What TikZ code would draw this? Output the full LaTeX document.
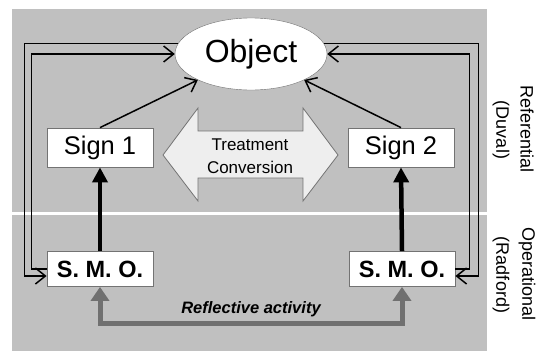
\documentclass[tikz,border=0pt]{standalone}
\usepackage{fontspec}
\setmainfont{Liberation Sans}
\usetikzlibrary{arrows.meta,shapes.geometric}
\definecolor{bg}{RGB}{192,192,192}
\definecolor{edge}{RGB}{115,115,115}
\definecolor{garr}{RGB}{112,112,112}
\definecolor{tcfill}{RGB}{238,238,238}
\begin{document}
\begin{tikzpicture}[x=1pt,y=-1pt,
  box/.style={draw=edge, line width=0.8pt, fill=white, minimum width=106pt, inner sep=0pt},
  signbox/.style={box, minimum height=39pt, font=\fontsize{25.5}{30}\selectfont},
  smobox/.style={box, minimum height=35pt, font=\bfseries\fontsize{23.5}{28}\selectfont},
  conn/.style={line width=1.5pt, -{Straight Barb[length=10pt,width=16pt,line width=1.5pt]}},
  bigarrow/.style={line width=4.5pt, -{Triangle[length=15pt,width=15pt]}},
  grayarrow/.style={draw=garr, line width=5pt, {Triangle[length=14pt,width=18pt]}-{Triangle[length=14pt,width=18pt]}},
  sidelabel/.style={rotate=-90, font=\fontsize{18}{21}\selectfont}]
\useasboundingbox (0,0) rectangle (537,351);
\fill[bg] (12,9) rectangle (487,351);
\draw[white, line width=3pt] (12,213) -- (487,213);

% treatment / conversion double arrow
\draw[draw=edge, line width=0.8pt, fill=tcfill]
  (163,155) -- (198,108) -- (198,131) -- (303,131) -- (303,108) -- (338,155)
  -- (303,201) -- (303,178) -- (198,178) -- (198,201) -- cycle;
\node[align=center, font=\fontsize{17}{23.5}\selectfont, text=black] (tc) at (250,156) {Treatment\\Conversion};

% nodes
\node[ellipse, draw=edge, fill=white, minimum width=152pt, minimum height=72pt, inner sep=0pt,
      font=\fontsize{32}{38}\selectfont] (obj) at (251,54) {Object};
\node[signbox] (s1) at (100,147.5) {Sign 1};
\node[signbox] (s2) at (401,147.5) {Sign 2};
\node[smobox] (m1) at (100,269) {S. M. O.};
\node[smobox] (m2) at (402,269) {S. M. O.};

% sign -> object
\draw[conn] (s1.north) -- (obj.206);
\draw[conn] (s2.north) -- (obj.334);

% double lines left
\draw[conn] (obj.172) -| ([xshift=-22pt,yshift=-7pt]m1.west) -- ([yshift=-7pt]m1.west);
\draw[conn] (m1.west) -| ([xshift=-15pt]m1.west) |- (obj.west);
% double lines right
\draw[conn] (obj.8) -| ([xshift=23pt,yshift=-7pt]m2.east) -- ([yshift=-7pt]m2.east);
\draw[conn] (m2.east) -| ([xshift=14pt]m2.east) |- (obj.east);

% thick arrows
\draw[bigarrow] (m1.north) -- (s1.south);
\draw[bigarrow] (m2.north) -- (s2.south);

% reflective activity
\draw[grayarrow] (m1.south) -- ++(0,37) -| (m2.south);
\node[font=\bfseries\itshape\fontsize{16.5}{19}\selectfont] (ra) at (251,309) {Reflective activity};

% side labels
\node[sidelabel] (ref) at (527,129) {Referential};
\node[sidelabel] (duv) at (501,130) {(Duval)};
\node[sidelabel] (ope) at (527,274) {Operational};
\node[sidelabel] (rad) at (501,275) {(Radford)};
\end{tikzpicture}
\end{document}
